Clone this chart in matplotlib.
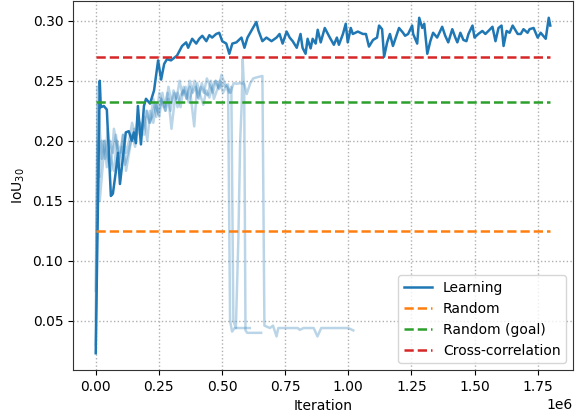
import numpy as np
import matplotlib
matplotlib.use('Agg')
import matplotlib.pyplot as plt

# Main learning run (iterations in thousands, IoU_30)
learn_iter = [0, 16, 20, 32, 44, 60, 68, 80, 88, 96,
              119, 131, 143, 151, 159, 167, 179, 191, 199, 215,
              231, 247, 259, 271, 282, 298, 310, 322, 342, 358,
              366, 382, 398, 410, 422, 438, 450, 461, 477, 489,
              501, 517, 529, 541, 557, 577, 589, 601, 617, 636,
              644, 660, 676, 696, 716, 728, 740, 756, 768, 780,
              796, 811, 819, 831, 839, 851, 859, 871, 879, 891,
              907, 927, 943, 955, 963, 979, 990, 998, 1010, 1018,
              1038, 1058, 1070, 1082, 1098, 1114, 1122, 1134, 1142, 1154,
              1165, 1177, 1201, 1217, 1225, 1237, 1253, 1257, 1273, 1281,
              1293, 1301, 1313, 1325, 1336, 1352, 1372, 1384, 1396, 1412,
              1424, 1432, 1444, 1456, 1468, 1476, 1492, 1500, 1515, 1531,
              1543, 1555, 1571, 1583, 1595, 1607, 1615, 1627, 1639, 1651,
              1671, 1683, 1694, 1710, 1718, 1734, 1742, 1750, 1762, 1782,
              1794, 1800]
learn_iou = [0.023, 0.250, 0.228, 0.229, 0.226, 0.154, 0.156, 0.175, 0.190, 0.164,
             0.207, 0.208, 0.200, 0.207, 0.198, 0.229, 0.197, 0.229, 0.235, 0.231,
             0.242, 0.267, 0.251, 0.264, 0.268, 0.267, 0.269, 0.271, 0.279, 0.282,
             0.2775, 0.285, 0.281, 0.285, 0.2875, 0.283, 0.288, 0.286, 0.289, 0.290,
             0.283, 0.281, 0.2725, 0.281, 0.282, 0.286, 0.2775, 0.286, 0.292, 0.299,
             0.292, 0.283, 0.286, 0.283, 0.286, 0.289, 0.281, 0.291, 0.286, 0.283,
             0.2775, 0.289, 0.2775, 0.2725, 0.285, 0.277, 0.285, 0.281, 0.2925, 0.282,
             0.294, 0.286, 0.280, 0.286, 0.280, 0.289, 0.2975, 0.282, 0.294, 0.289,
             0.291, 0.289, 0.289, 0.2785, 0.284, 0.286, 0.296, 0.293, 0.270, 0.282,
             0.289, 0.279, 0.294, 0.290, 0.2875, 0.289, 0.296, 0.289, 0.281, 0.3025,
             0.294, 0.2975, 0.2725, 0.283, 0.290, 0.286, 0.295, 0.2875, 0.282, 0.293,
             0.286, 0.282, 0.290, 0.284, 0.283, 0.289, 0.296, 0.286, 0.289, 0.2915,
             0.289, 0.2915, 0.295, 0.283, 0.294, 0.296, 0.279, 0.2915, 0.290, 0.296,
             0.289, 0.289, 0.293, 0.290, 0.293, 0.294, 0.290, 0.286, 0.290, 0.285,
             0.3025, 0.296]

# Other (collapsed) runs, drawn faint
run_a_iter = [0, 8, 16, 24, 32, 44, 56, 68, 80, 92, 104, 116, 128, 140, 152, 164,
              176, 188, 200, 212, 224, 236, 248, 260, 272, 284, 296, 308, 320, 332,
              344, 356, 368, 380, 392, 404, 416, 428, 440, 452, 464, 476, 488, 500,
              512, 524, 532, 540, 550, 570, 590, 610]
run_a_iou = [0.075, 0.245, 0.210, 0.185, 0.200, 0.178, 0.200, 0.190, 0.205, 0.185,
             0.195, 0.180, 0.190, 0.200, 0.210, 0.205, 0.215, 0.210, 0.225, 0.215,
             0.220, 0.232, 0.222, 0.235, 0.228, 0.240, 0.225, 0.242, 0.235, 0.250,
             0.238, 0.245, 0.232, 0.240, 0.250, 0.236, 0.245, 0.240, 0.252, 0.246,
             0.240, 0.250, 0.243, 0.248, 0.245, 0.247, 0.050, 0.041, 0.044, 0.044,
             0.044, 0.044]

run_b_iter = [0, 8, 16, 24, 36, 48, 60, 72, 84, 96, 108, 120, 132, 144, 156, 168,
              180, 192, 204, 216, 228, 240, 252, 264, 276, 288, 300, 312, 324, 336,
              348, 360, 372, 384, 396, 408, 420, 432, 444, 456, 468, 480, 492, 504,
              516, 528, 537, 545, 555, 565, 572, 578, 582, 588, 593, 600, 630, 655]
run_b_iou = [0.050, 0.230, 0.170, 0.200, 0.185, 0.210, 0.185, 0.175, 0.200, 0.190,
             0.205, 0.175, 0.190, 0.205, 0.195, 0.215, 0.205, 0.220, 0.200, 0.225,
             0.215, 0.230, 0.220, 0.240, 0.225, 0.235, 0.210, 0.232, 0.240, 0.228,
             0.245, 0.235, 0.250, 0.240, 0.245, 0.235, 0.248, 0.240, 0.238, 0.250,
             0.235, 0.242, 0.250, 0.240, 0.245, 0.240, 0.245, 0.050, 0.044, 0.120,
             0.200, 0.230, 0.268, 0.240, 0.042, 0.040, 0.040, 0.040]

run_c_iter = [0, 8, 16, 24, 36, 48, 60, 72, 84, 96, 108, 120, 132, 144, 156, 168,
              180, 192, 204, 216, 228, 240, 252, 264, 276, 288, 300, 312, 324, 336,
              348, 360, 372, 390, 402, 414, 426, 438, 450, 462, 474, 486, 498, 510,
              522, 534, 546, 558, 570, 588, 598, 612, 624, 640, 660, 668, 690, 702,
              716, 723, 760, 800, 808, 823, 863, 878, 893, 940, 1000, 1020]
run_c_iou = [0.030, 0.200, 0.150, 0.170, 0.200, 0.185, 0.175, 0.210, 0.195, 0.180,
             0.205, 0.190, 0.200, 0.215, 0.205, 0.220, 0.210, 0.205, 0.225, 0.215,
             0.235, 0.220, 0.240, 0.230, 0.225, 0.245, 0.232, 0.240, 0.228, 0.238,
             0.242, 0.235, 0.245, 0.212, 0.248, 0.238, 0.230, 0.242, 0.236, 0.245,
             0.250, 0.244, 0.255, 0.248, 0.245, 0.240, 0.248, 0.2475, 0.248, 0.2475,
             0.239, 0.248, 0.252, 0.253, 0.254, 0.046, 0.044, 0.046, 0.037, 0.044,
             0.044, 0.044, 0.0425, 0.044, 0.044, 0.037, 0.044, 0.044, 0.044, 0.042]

# Baselines
baseline_names = ['Random', 'Random (goal)', 'Cross-correlation']
baseline_values = [0.125, 0.232, 0.270]
baseline_colors = ['C1', 'C2', 'C3']
x_span = [0, 1800]

fig = plt.figure(figsize=(5.81, 4.19), dpi=100)
ax = fig.add_axes([73 / 581, 1 - 370 / 419, 500 / 581, 369 / 419])

ax.plot(np.array(learn_iter) * 1000, learn_iou, color='C0', lw=1.8, label='Learning')
for xs, ys in [(run_a_iter, run_a_iou), (run_b_iter, run_b_iou), (run_c_iter, run_c_iou)]:
    ax.plot(np.array(xs) * 1000, ys, color='C0', lw=1.8, alpha=0.3)

for name, val, col in zip(baseline_names, baseline_values, baseline_colors):
    ax.plot(np.array(x_span) * 1000, [val, val], color=col, ls='--', lw=1.8, label=name)

ax.grid(True, linestyle=':', color='#b0b0b0', lw=1)
for sp in ax.spines.values():
    sp.set_color('#333333')
ax.set_xlabel('Iteration')
ax.set_ylabel('IoU$_{30}$')
ax.legend(loc='lower right')

fig.savefig('out.png', dpi=100)
